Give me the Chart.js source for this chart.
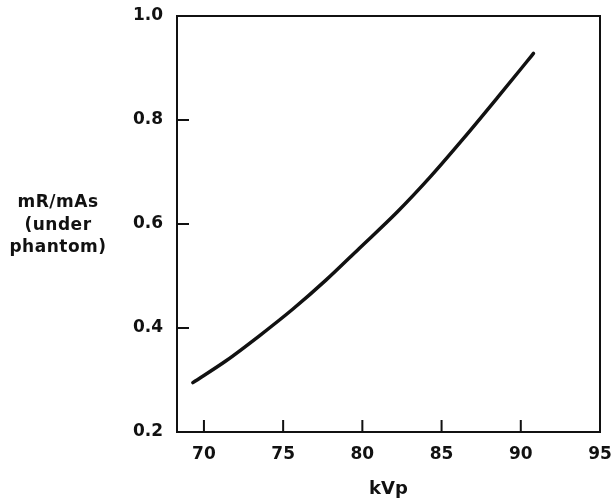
<!DOCTYPE html>
<html>
<head>
<meta charset="utf-8">
<script src="https://cdn.jsdelivr.net/npm/chart.js@4/dist/chart.umd.min.js"></script>
<style>
  body { margin: 0; background: #fff; }
</style>
</head>
<body>
<canvas id="doseCanvas" width="612" height="500"></canvas>
<script>
// curve
const kvp = [69.3, 71.4, 73.5, 75.6, 77.7, 79.8, 82.2, 84.3, 86.4, 88.5, 90.4, 90.8];
const mRperMAs = [0.295, 0.337, 0.385, 0.436, 0.492, 0.553, 0.623, 0.691, 0.765, 0.842, 0.913, 0.928];

const xTicks = [70, 75, 80, 85, 90, 95];
const yTicks = [0.2, 0.4, 0.6, 0.8, 1.0];
const yTitleLines = ["mR/mAs", "(under", "phantom)"];

const FONT = "'DejaVu Sans', 'Liberation Sans', sans-serif";
const INK = "#111";

//---------------------- PLUGINS

// frame around the plot and short tick marks pointing inward
const framePlugin = {
    id: 'frame',
    afterDatasetsDraw(chart) {
        const {ctx, chartArea: a, scales} = chart;
        ctx.save();
        ctx.strokeStyle = INK;
        ctx.lineWidth = 2;
        ctx.strokeRect(a.left, a.top, a.right - a.left, a.bottom - a.top);

        ctx.beginPath();
        xTicks.forEach(v => {
            const px = scales.x.getPixelForValue(v);
            if (px > a.left + 2 && px < a.right - 2) {
                ctx.moveTo(px, a.bottom);
                ctx.lineTo(px, a.bottom - 12);
            }
        });
        yTicks.forEach(v => {
            const py = scales.y.getPixelForValue(v);
            if (py > a.top + 2 && py < a.bottom - 2) {
                ctx.moveTo(a.left, py);
                ctx.lineTo(a.left + 12, py);
            }
        });
        ctx.stroke();
        ctx.restore();
    }
};

// horizontal, three line y axis title
const yTitlePlugin = {
    id: 'yTitle',
    afterDraw(chart) {
        const ctx = chart.ctx;
        ctx.save();
        ctx.fillStyle = INK;
        ctx.font = `bold 17px ${FONT}`;
        ctx.letterSpacing = '0.5px';
        ctx.textAlign = 'center';
        ctx.textBaseline = 'middle';
        yTitleLines.forEach((t, i) => ctx.fillText(t, 58, 203 + i * 22.5));
        ctx.restore();
    }
};

//---------------------- CHART

const points = kvp.map((k, i) => ({x: k, y: mRperMAs[i]}));

new Chart(document.getElementById("doseCanvas").getContext("2d"), {
    type: 'line',
    data: {
        datasets: [{
            data: points,
            borderColor: INK,
            borderWidth: 3.5,
            pointRadius: 0,
            fill: false,
            cubicInterpolationMode: 'monotone',
            borderCapStyle: 'round'
        }]
    },
    options: {
        responsive: false,
        animation: false,
        layout: {padding: {top: 16, right: 12, left: 0, bottom: 0}},
        plugins: {
            legend: {display: false},
            tooltip: {enabled: false}
        },
        scales: {
            x: {
                type: 'linear',
                min: 68.3,
                max: 95,
                afterBuildTicks: s => { s.ticks = xTicks.map(v => ({value: v})); },
                afterFit: s => { s.height = 68; s.paddingRight = 0; s.paddingLeft = 0; },
                grid: {display: false, drawTicks: false},
                border: {display: false},
                ticks: {
                    color: INK,
                    font: {family: FONT, size: 17, weight: 'bold'},
                    padding: 12,
                    maxRotation: 0,
                    callback: v => v
                },
                title: {
                    display: true,
                    text: 'kVp',
                    color: INK,
                    font: {family: FONT, size: 18, weight: 'bold'},
                    padding: {top: 0, bottom: 0}
                }
            },
            y: {
                type: 'linear',
                min: 0.2,
                max: 1.0,
                afterBuildTicks: s => { s.ticks = yTicks.map(v => ({value: v})); },
                afterFit: s => { s.width = 177; s.paddingTop = 0; s.paddingBottom = 0; },
                grid: {display: false, drawTicks: false},
                border: {display: false},
                ticks: {
                    color: INK,
                    font: {family: FONT, size: 17, weight: 'bold'},
                    padding: 14,
                    callback: v => Number(v).toFixed(1)
                }
            }
        }
    },
    plugins: [framePlugin, yTitlePlugin]
});
</script>
</body>
</html>
